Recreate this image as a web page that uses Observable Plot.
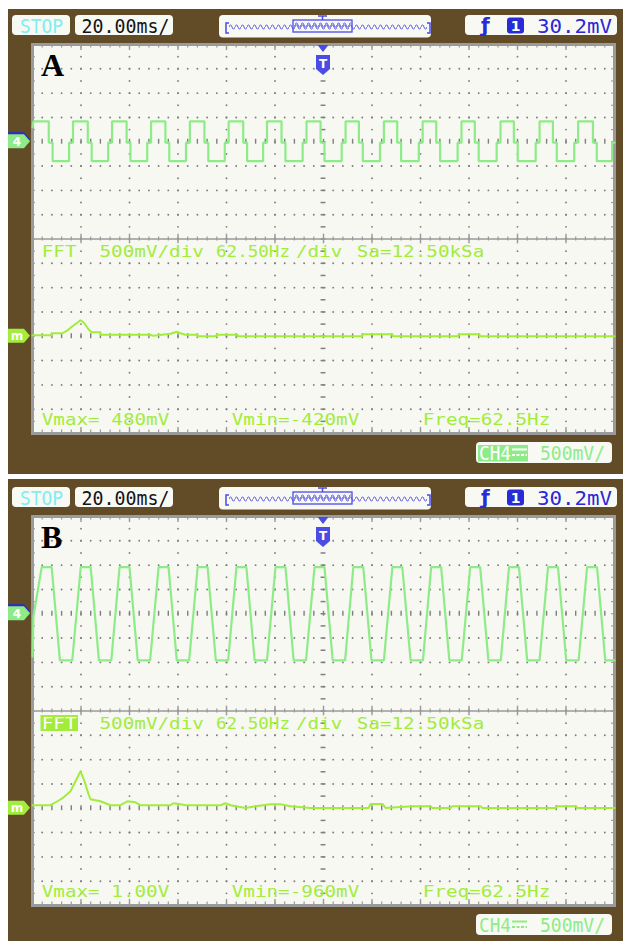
<!DOCTYPE html>
<html>
<head>
<meta charset="utf-8">
<script src="https://cdn.jsdelivr.net/npm/d3@7"></script>
<script src="https://cdn.jsdelivr.net/npm/@observablehq/plot@0.6"></script>
<style>
  html, body { margin: 0; padding: 0; background: #ffffff; }
  #page { position: relative; width: 623px; height: 941px; overflow: hidden; }
  .panel { position: absolute; left: 0; }
  .panel svg { display: block; }
</style>
</head>
<body>
<div id="page">
  <div class="panel" id="panelA" style="top:0px"></div>
  <div class="panel" id="panelB" style="top:472px"></div>
</div>
<script>
// ---- Scope settings (units per division) ----
const msPerDiv = 20;
const voltsPerDiv = 0.5;
const hzPerDiv = 62.5;

// ---- Panel A: CH4 time trace (edge times in ms, levels in V) ----
const aHighStart = [0.4, 16.7, 32.8, 48.9, 64.9, 80.9, 96.7, 113.0, 129.1, 144.9, 160.9, 176.9, 193.0, 209.1, 225.0];
const aHighEnd   = [6.7, 22.8, 38.8, 54.8, 70.9, 86.9, 102.7, 118.8, 134.6, 150.4, 166.5, 182.4, 198.5, 214.6, 231.1];
const aLowStart  = [8.3, 24.4, 40.4, 56.4, 72.5, 88.5, 104.3, 120.4, 136.2, 152.0, 168.1, 184.0, 200.1, 216.2, 232.7];
const aLowEnd    = [15.1, 31.2, 47.3, 63.3, 79.3, 95.1, 111.4, 127.5, 143.3, 159.3, 175.3, 191.4, 207.5, 223.4, 239.0];
const aHigh = 0.42, aShelf = -0.02, aLow = -0.40;

// ---- Panel A: FFT trace (Hz, mV) ----
const aFftHz = [0, 24.5, 24.5, 38.7, 45.1, 51.5, 61.9, 65.7, 72.2, 76.0, 87.6, 87.6, 150.8, 155.9, 177.8, 185.6, 190.7, 197.2, 212.6, 212.6, 237.1, 237.1, 264.2, 264.2, 425.3, 425.3, 463.9, 463.9, 549.0, 549.0, 576.0, 576.0, 750];
const aFftMv = [21, 21, 62, 62, 123, 206, 329, 288, 144, 82, 82, 31, 31, 10, 51, 93, 62, 31, 31, 0, 0, 31, 31, 0, 0, 41, 41, 0, 0, 41, 41, 0, 0];

// ---- Panel B: CH4 time trace (edge times in ms, levels in V) ----
const bHighStart = [3.8, 19.9, 35.9, 52.0, 68.1, 84.1, 100.2, 116.3, 132.3, 148.4, 164.4, 180.5, 196.5, 212.6, 228.7];
const bHighEnd   = [7.9, 24.0, 40.0, 56.1, 72.2, 88.2, 104.3, 120.4, 136.4, 152.5, 168.5, 184.6, 200.6, 216.7, 232.8];
const bLowStart  = [11.3, 27.4, 43.4, 59.5, 75.6, 91.6, 107.7, 123.8, 139.8, 155.9, 171.9, 188.0, 204.0, 220.1, 236.2];
const bLowEnd    = [16.4, 32.5, 48.5, 64.6, 80.7, 96.7, 112.8, 128.9, 144.9, 161.0, 177.0, 193.1, 209.1, 225.2];
const bLeadT = [0, 0.4];
const bLeadV = [-0.88, -0.05];
const bHigh = 0.96, bLow = -0.96;

// ---- Panel B: FFT trace (Hz, mV) ----
const bFftHz = [0, 23.2, 32.2, 38.7, 49.0, 61.9, 67.0, 72.2, 74.7, 87.6, 100.5, 113.4, 122.4, 132.7, 139.2, 177.8, 181.7, 190.7, 197.2, 242.3, 248.7, 255.2, 274.5, 287.4, 306.7, 319.6, 332.5, 358.3, 433.0, 435.6, 451.0, 454.9, 489.7, 512.9, 515.5, 538.7, 541.3, 577.3, 579.9, 674.0, 676.6, 699.8, 702.3, 750];
const bFftMv = [62, 62, 144, 206, 350, 761, 556, 288, 185, 144, 62, 62, 144, 123, 62, 62, 103, 82, 62, 62, 103, 62, 6, 41, 82, 82, 41, 6, 6, 88, 88, 6, 41, 41, 6, 6, 41, 41, 6, 6, 41, 41, 6, 6];

// ---- On-screen readouts ----
const fftHeader = ["FFT", "500mV/div", "62.50Hz", "/div", "Sa=12.50kSa"];
const aReadout = ["Vmax= 480mV", "Vmin=-420mV", "Freq=62.5Hz"];
const bReadout = ["Vmax= 1.00V", "Vmin=-960mV", "Freq=62.5Hz"];
const timebaseLabel = "20.00ms/";
const triggerLevel = "30.2mV";
const channelScale = "500mV/";

// ---- Colours ----
const brown = "#624b27";
const screenBg = "#f7f8f2";
const gridGray = "#7f7f7f";
const borderGray = "#9a9a9a";
const ch4Green = "#8eec88";
const mathGreen = "#a2ec3c";
const scopeBlue = "#2a2ad6";
const memBlue = "#4b4be6";
const stopCyan = "#7eeef0";
const boxBg = "#f9f9f4";

// square-ish trace with a shelf on every edge (panel A)
function shelfTrace(hs, he, ls, le, hi, shelf, lo) {
  const pts = [{t: 0, v: 0.3}];
  hs.forEach((h, i) => {
    if (i > 0) pts.push({t: h, v: shelf});
    pts.push({t: h, v: hi}, {t: he[i], v: hi}, {t: he[i], v: shelf}, {t: ls[i], v: shelf}, {t: ls[i], v: lo});
    pts.push({t: le[i], v: lo}, {t: le[i], v: shelf});
  });
  pts.push({t: 240, v: shelf});
  return pts;
}
// trapezoid trace with sloped edges (panel B)
function slopeTrace(leadT, leadV, hs, he, ls, le, hi, lo) {
  const pts = leadT.map((t, i) => ({t, v: leadV[i]}));
  hs.forEach((h, i) => {
    pts.push({t: h, v: hi}, {t: he[i], v: hi}, {t: ls[i], v: lo});
    pts.push({t: le[i] === undefined ? 240 : le[i], v: lo});
  });
  return pts;
}
const zipFft = (hz, mv) => hz.map((f, i) => ({f, mv: mv[i]}));

const fifths = d3.range(1, 60).map(i => i / 5);
const halves = d3.range(-15, 16).map(i => i / 2);
const rows = [-7, -6, -5, -3, -2, -1, 1, 2, 3, 5, 6, 7];
const cols = [1, 2, 3, 4, 5, 7, 8, 9, 10, 11];
const rowDots = rows.flatMap(r => fifths.map(f => ({x: f, y: r})));
const colDots = cols.flatMap(c => halves.map(h => ({x: c, y: h})));
const axisTicks = [4, -4].flatMap(r => fifths.map(f => ({x: f, y: r})));
const divTicks = d3.range(1, 12);

function drawPanel(host, cfg) {
  const H = cfg.height;
  const chart = Plot.plot({
    width: 623,
    height: H,
    marginLeft: 32, marginRight: 9, marginTop: 44, marginBottom: H - 433,
    x: {domain: [0, 12], axis: null},
    y: {domain: [-8, 8], axis: null},
    style: {background: "transparent", overflow: "visible"},
    marks: [
      Plot.frame({fill: screenBg, stroke: null}),
      Plot.dot(rowDots, {x: "x", y: "y", r: 0.95, fill: gridGray}),
      Plot.dot(colDots, {x: "x", y: "y", r: 0.95, fill: gridGray}),
      // centre vertical axis
      Plot.ruleY(halves, {y: d => d, x1: () => 5.95, x2: () => 6.05, stroke: gridGray, strokeWidth: 1.5}),
      // zero axes of the two windows
      Plot.ruleX(axisTicks, {x: "x", y1: d => d.y - 0.1, y2: d => d.y + 0.1, stroke: gridGray, strokeWidth: 1.4}),
      // window divider
      Plot.ruleY([0], {stroke: borderGray, strokeWidth: 1.6}),
      Plot.ruleX(fifths, {x: d => d, y1: () => -0.08, y2: () => 0.08, stroke: borderGray, strokeWidth: 1.2}),
      Plot.ruleX(divTicks, {x: d => d, y1: () => -0.2, y2: () => 0.2, stroke: borderGray, strokeWidth: 1.4}),
      // border ticks
      Plot.ruleX(fifths, {x: d => d, y1: () => 8, y2: () => 7.86, stroke: borderGray, strokeWidth: 1.2}),
      Plot.ruleX(fifths, {x: d => d, y1: () => -8, y2: () => -7.86, stroke: borderGray, strokeWidth: 1.2}),
      Plot.ruleX(divTicks, {x: d => d, y1: () => 8, y2: () => 7.75, stroke: borderGray, strokeWidth: 1.4}),
      Plot.ruleX(divTicks, {x: d => d, y1: () => -8, y2: () => -7.75, stroke: borderGray, strokeWidth: 1.4}),
      Plot.ruleY(halves, {y: d => d, x1: () => 0, x2: () => 0.06, stroke: borderGray, strokeWidth: 1.2}),
      Plot.ruleY(halves, {y: d => d, x1: () => 11.94, x2: () => 12, stroke: borderGray, strokeWidth: 1.2}),
      Plot.frame({stroke: borderGray, strokeWidth: 3}),
      // traces
      Plot.line(cfg.fft, {x: d => d.f / hzPerDiv, y: d => -4 + d.mv / 1000 / voltsPerDiv, stroke: mathGreen, strokeWidth: 2}),
      Plot.line(cfg.trace, {x: d => d.t / msPerDiv, y: d => 4 + d.v / voltsPerDiv, stroke: ch4Green, strokeWidth: 2.2, strokeLinejoin: "miter"})
    ]
  });

  const svg = d3.select(chart);
  const sx = v => chart.scale("x").apply(v);
  const sy = v => chart.scale("y").apply(v);

  // instrument body
  svg.insert("rect", ":first-child")
    .attr("x", 8).attr("y", cfg.bodyTop).attr("width", 615).attr("height", cfg.bodyBottom - cfg.bodyTop)
    .attr("fill", brown);

  const g = svg.append("g").attr("text-anchor", "start");
  const mono = "DejaVu Sans Mono";
  function box(x0, y0, x1, y1) {
    g.append("rect").attr("x", x0).attr("y", y0).attr("width", x1 - x0).attr("height", y1 - y0)
      .attr("rx", 4).attr("fill", boxBg);
  }
  function label(s, x, y, size, fill, len, family = mono, weight = "normal") {
    const t = g.append("text").attr("x", x).attr("y", y).text(s)
      .attr("text-anchor", "start")
      .attr("font-family", family).attr("font-size", size).attr("font-weight", weight)
      .attr("fill", fill).attr("xml:space", "preserve");
    if (len) t.attr("textLength", len).attr("lengthAdjust", "spacingAndGlyphs");
    return t;
  }

  // --- top status bar ---
  box(12, 15, 70, 35);
  label("STOP", 20, 33, 20, stopCyan, 43);
  box(75, 15, 173, 35);
  label(timebaseLabel, 81.5, 33, 20, "#141414", 88);

  // memory position bar
  box(219, 15, 431, 37.5);
  const pid = "wave" + cfg.id;
  const defs = svg.append("defs");
  defs.append("pattern").attr("id", pid).attr("patternUnits", "userSpaceOnUse")
    .attr("width", 6).attr("height", 10).attr("x", 229).attr("y", 22)
    .append("path").attr("d", "M0,5 C1,2.2 2,2.2 3,5 C4,7.8 5,7.8 6,5")
    .attr("fill", "none").attr("stroke", memBlue).attr("stroke-width", 1);
  g.append("rect").attr("x", 229).attr("y", 22).attr("width", 198).attr("height", 10).attr("fill", `url(#${pid})`);
  g.append("rect").attr("x", 293).attr("y", 20).attr("width", 59).attr("height", 12)
    .attr("fill", "none").attr("stroke", memBlue).attr("stroke-width", 1.3);
  g.append("rect").attr("x", 294).attr("y", 24).attr("width", 57).attr("height", 8).attr("fill", `url(#${pid})`)
    .attr("transform", "translate(0,-2)");
  g.append("path").attr("d", "M229,23 H226 V33 H229 M427,23 H430 V33 H427 M318,16 H327 M322.5,16 V20")
    .attr("fill", "none").attr("stroke", memBlue).attr("stroke-width", 1.5);

  // trigger readout
  box(465, 15, 617, 35);
  label("ƒ", 481, 32, 20, scopeBlue, null, "DejaVu Sans", "bold");
  g.append("rect").attr("x", 507).attr("y", 17.5).attr("width", 17).attr("height", 16).attr("rx", 3).attr("fill", scopeBlue);
  label("1", 515.5, 31, 14, "#ffffff", null, "DejaVu Sans", "bold").attr("text-anchor", "middle");
  label(triggerLevel, 537, 33, 20, scopeBlue, 75);

  // trigger position marker on the screen
  const tx = sx(6);
  g.append("path").attr("d", `M${tx - 5.5},45 H${tx + 5.5} L${tx},52 Z`).attr("fill", memBlue);
  g.append("path").attr("d", `M${tx - 7},55 H${tx + 7} V69 L${tx},75 L${tx - 7},69 Z`).attr("fill", memBlue);
  label("T", tx, 68, 12, "#ffffff", null, "DejaVu Sans", "bold").attr("text-anchor", "middle");

  // channel and math reference tags
  const y4 = sy(4), ym = sy(-4);
  const tag = yc => `M8,${yc - 7} H24 L30,${yc} L24,${yc + 7} H8 Z`;
  g.append("path").attr("d", tag(y4 - 2)).attr("fill", scopeBlue);
  g.append("path").attr("d", tag(y4)).attr("fill", ch4Green);
  label("4", 17, y4 + 4.5, 12, "#ffffff", null, "DejaVu Sans", "bold").attr("text-anchor", "middle");
  g.append("path").attr("d", tag(ym)).attr("fill", mathGreen);
  label("m", 17, ym + 4, 12, "#ffffff", null, "DejaVu Sans", "bold").attr("text-anchor", "middle");

  // FFT header line
  const hy = sy(0) + 18.5;
  const hx = [41.7, 99.5, 216, 296, 356.7];
  const hl = [34.8, 104.4, 74, 46.4, 127.6];
  if (cfg.fftInverted) {
    g.append("rect").attr("x", 40.5).attr("y", hy - 14).attr("width", 37.5).attr("height", 16).attr("fill", mathGreen);
  }
  fftHeader.forEach((s, i) => label(s, hx[i], hy, 16.5, (i === 0 && cfg.fftInverted) ? "#ffffff" : mathGreen, hl[i]));

  // measurement readouts
  const ry = sy(-8) - 8;
  [41.7, 231.7, 422.7].forEach((x, i) => label(cfg.readout[i], x, ry, 16.5, mathGreen, 127.6));

  // channel scale box
  box(476, 442, 612, 463);
  const chFill = cfg.chInverted ? "#ffffff" : ch4Green;
  if (cfg.chInverted) {
    g.append("rect").attr("x", 478).attr("y", 445).attr("width", 50).attr("height", 16.5).attr("fill", ch4Green);
  }
  label("CH4", 479, 460, 19, chFill, 32);
  g.append("path").attr("d", "M512,449.5 H527").attr("stroke", chFill).attr("stroke-width", 2);
  g.append("path").attr("d", "M512,455 H527").attr("stroke", chFill).attr("stroke-width", 2).attr("stroke-dasharray", "3,1.5");
  label(channelScale, 540, 460, 19, ch4Green, 65);

  // panel letter
  label(cfg.letter, 41, 76, 32, "#000000", null, "Liberation Serif", "bold");

  host.appendChild(chart);
}

drawPanel(document.getElementById("panelA"), {
  id: "A", letter: "A", height: 476, bodyTop: 9, bodyBottom: 474,
  trace: shelfTrace(aHighStart, aHighEnd, aLowStart, aLowEnd, aHigh, aShelf, aLow),
  fft: zipFft(aFftHz, aFftMv),
  readout: aReadout, fftInverted: false, chInverted: true
});
drawPanel(document.getElementById("panelB"), {
  id: "B", letter: "B", height: 469, bodyTop: 7, bodyBottom: 469,
  trace: slopeTrace(bLeadT, bLeadV, bHighStart, bHighEnd, bLowStart, bLowEnd, bHigh, bLow),
  fft: zipFft(bFftHz, bFftMv),
  readout: bReadout, fftInverted: true, chInverted: false
});
</script>
</body>
</html>
